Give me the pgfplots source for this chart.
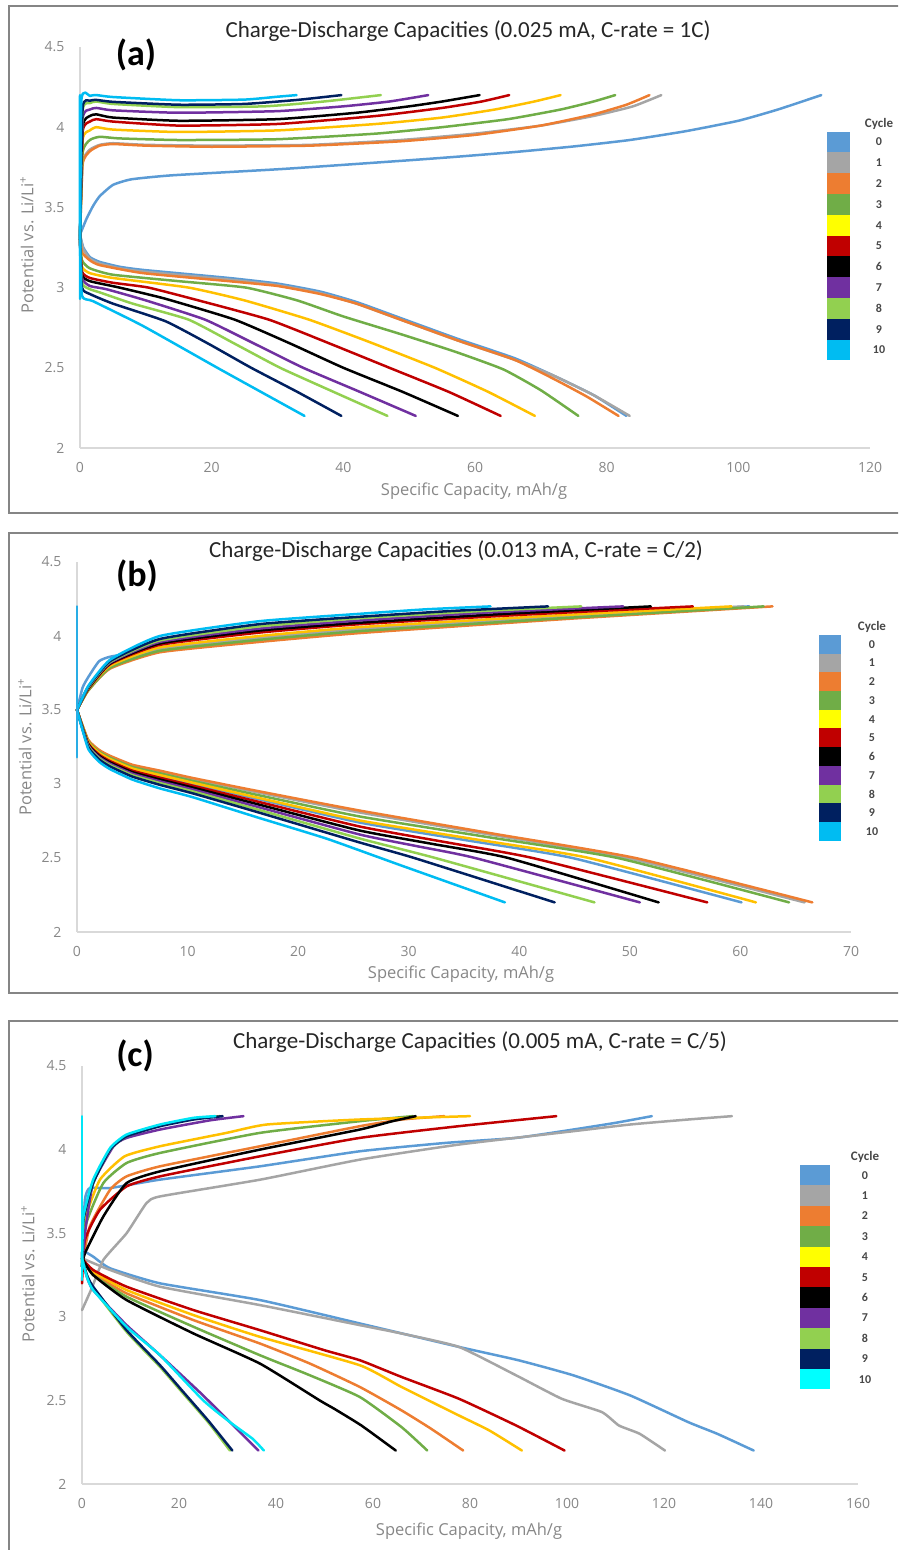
\documentclass[border=0pt]{standalone}
\usepackage{fontspec}
\setmainfont{Carlito}
\newfontfamily\osans{Open Sans}
\usepackage{pgfplots}
\pgfplotsset{compat=1.18}
\definecolor{c0}{HTML}{5B9BD5}
\definecolor{c1}{HTML}{A5A5A5}
\definecolor{c2}{HTML}{ED7D31}
\definecolor{c3}{HTML}{70AD47}
\definecolor{c4}{HTML}{FFC000}
\definecolor{c4l}{HTML}{FFFF00}
\definecolor{c5}{HTML}{C00000}
\definecolor{c6}{HTML}{000000}
\definecolor{c7}{HTML}{7030A0}
\definecolor{c8}{HTML}{92D050}
\definecolor{c9}{HTML}{002060}
\definecolor{c10}{HTML}{00BCF2}
\definecolor{c10c}{HTML}{00E6F6}
\definecolor{c10cl}{HTML}{00FFFF}
\definecolor{frame}{HTML}{858585}
\pgfplotsset{
  cd/.style={
    scale only axis, anchor=south west, clip=false,
    axis x line*=bottom, axis y line*=left,
    axis line style={-, draw=black!15, line width=1.6pt},
    major tick length=0pt,
    ymin=2, ymax=4.5, ytick={2,2.5,3,3.5,4,4.5},
    /pgf/number format/assume math mode=true,
    tick label style={font=\osans\fontsize{14}{14}\selectfont, text=black!47},
    yticklabel style={xshift=-12pt},
    xticklabel style={yshift=-11pt},
    no markers,
    every axis plot/.append style={line width=2.5pt, line join=round, line cap=round, smooth, tension=0.3},
  }
}
\begin{document}
\begin{tikzpicture}
\useasboundingbox (0,0) rectangle (898pt,1550pt);
\clip (0,0) rectangle (898pt,1550pt);
% frames
\draw[frame, line width=2pt] (8.5pt,1037pt) rectangle (920pt,1543.5pt);
\draw[frame, line width=2pt] (8.5pt,557pt) rectangle (920pt,1017pt);
\draw[frame, line width=2pt] (8.5pt,-20pt) rectangle (920pt,528.5pt);

% ---------------- panel (a)
\begin{axis}[cd, at={(80pt,1102pt)}, width=790pt, height=401pt,
  xmin=0, xmax=120, xtick={0,20,40,60,80,100,120}]
% cycle 0
\addplot[c0] coordinates {(0,3.33)(1,3.43)(2,3.51)(3,3.57)(5,3.64)(7.8,3.675)(14,3.70)(31,3.74)(48.7,3.79)(57,3.815)(66,3.845)(75,3.88)(83.5,3.92)(92,3.975)(100,4.04)(106,4.11)(112.6,4.2)};
\addplot[c0] coordinates {(0,3.33)(0.5,3.25)(1.5,3.19)(3,3.16)(6,3.13)(9.6,3.11)(22.6,3.06)(30,3.025)(36.5,2.975)(42,2.91)(48.7,2.81)(57.4,2.68)(66,2.56)(72,2.45)(78,2.33)(83,2.2)};
% cycle 1
\addplot[c1] coordinates {(0,3.3)(0.4,3.78)(1.5,3.86)(3,3.89)(5,3.9)(10,3.89)(20,3.885)(35,3.89)(48.7,3.92)(60,3.96)(70,4.01)(78,4.07)(84,4.13)(88.3,4.2)};
\addplot[c1] coordinates {(0,3.33)(0.5,3.24)(1.5,3.18)(3,3.15)(6,3.12)(9.6,3.10)(22.6,3.05)(30,3.015)(36.5,2.965)(42,2.90)(48.7,2.80)(57.4,2.67)(66,2.55)(72,2.45)(78,2.33)(83.5,2.2)};
% cycle 2
\addplot[c2] coordinates {(0,3.3)(0.4,3.77)(1.5,3.85)(3,3.885)(5,3.895)(10,3.885)(20,3.878)(35,3.885)(48.7,3.912)(60,3.952)(70,4.01)(78,4.08)(83,4.14)(86.5,4.2)};
\addplot[c2] coordinates {(0,3.33)(0.3,3.22)(1.5,3.17)(3,3.14)(9.6,3.09)(22.6,3.04)(30,3.01)(36.5,2.96)(42,2.9)(48.7,2.8)(57.4,2.67)(66,2.55)(72,2.43)(77,2.32)(81.8,2.2)};
% cycle 3
\addplot[c3] coordinates {(0,3.3)(0.4,3.84)(1.5,3.92)(3,3.94)(6,3.93)(15,3.92)(30,3.925)(45,3.96)(55,4.0)(65,4.05)(73,4.11)(78,4.16)(81.3,4.2)};
\addplot[c3] coordinates {(0,3.3)(0.3,3.17)(1.5,3.12)(5,3.08)(15,3.04)(25.2,3.0)(33,2.92)(40,2.82)(48.7,2.71)(57,2.6)(64.3,2.49)(70,2.36)(75.7,2.2)};
% cycle 4
\addplot[c4] coordinates {(0,3.3)(0.4,3.92)(1.5,3.98)(2.5,4.0)(5,3.985)(15,3.97)(30,3.98)(45,4.02)(55,4.06)(63,4.11)(69,4.16)(73,4.2)};
\addplot[c4] coordinates {(0,3.3)(0.3,3.13)(1.5,3.09)(5,3.06)(16.5,3.0)(25,2.92)(34.8,2.8)(44,2.66)(53.9,2.5)(62,2.35)(69.1,2.2)};
% cycle 5
\addplot[c5] coordinates {(0,3.3)(0.4,3.97)(1.5,4.035)(2.5,4.05)(5,4.035)(15,4.01)(30,4.02)(45,4.07)(55,4.12)(61,4.16)(65.2,4.2)};
\addplot[c5] coordinates {(0,3.3)(0.3,3.1)(1.5,3.06)(5,3.03)(10.4,3.0)(18,2.92)(28.7,2.8)(38,2.65)(47,2.5)(56,2.35)(63.9,2.2)};
% cycle 6
\addplot[c6] coordinates {(0,3.3)(0.4,4.0)(1.5,4.07)(2.5,4.08)(5,4.06)(15,4.04)(30,4.05)(42,4.09)(50,4.13)(55,4.16)(60.7,4.2)};
\addplot[c6] coordinates {(0,3.3)(0.3,3.08)(1.5,3.04)(6,3.0)(13,2.93)(23.5,2.8)(32,2.65)(40,2.5)(49,2.35)(57.4,2.2)};
% cycle 7
\addplot[c7] coordinates {(0,3.3)(0.4,4.05)(1.5,4.11)(2.5,4.12)(5,4.105)(15,4.09)(30,4.1)(40,4.13)(47,4.16)(52.9,4.2)};
\addplot[c7] coordinates {(0,3.3)(0.3,3.06)(1.5,3.01)(4,2.99)(10,2.92)(19,2.8)(26.5,2.65)(33.9,2.5)(42.5,2.35)(51,2.2)};
% cycle 8
\addplot[c8] coordinates {(0,3.3)(0.4,4.1)(1.5,4.15)(2.5,4.16)(5,4.145)(15,4.125)(28,4.13)(37,4.16)(45.7,4.2)};
\addplot[c8] coordinates {(0,3.3)(0.3,3.03)(1.5,2.99)(3,2.97)(8,2.9)(16.5,2.8)(23.5,2.65)(30.4,2.5)(38.5,2.35)(46.7,2.2)};
% cycle 9
\addplot[c9] coordinates {(0,3.3)(0.4,4.12)(1.5,4.165)(2.5,4.17)(5,4.158)(15,4.14)(25,4.145)(33,4.17)(39.7,4.2)};
\addplot[c9] coordinates {(0,3.3)(0.3,3.0)(1.5,2.96)(5,2.9)(13,2.79)(19.5,2.65)(26,2.5)(33,2.35)(39.7,2.2)};
% cycle 10
\addplot[c10] coordinates {(0,2.93)(0.2,4.16)(1.5,4.195)(2.5,4.2)(5,4.188)(15,4.168)(25,4.172)(30,4.19)(32.9,4.2)};
\addplot[c10] coordinates {(0,4.2)(0,3.3)(0.3,2.95)(2,2.915)(9.6,2.76)(21.3,2.49)(34.1,2.2)};
\end{axis}

% ---------------- panel (b)
\begin{axis}[cd, at={(77pt,618pt)}, width=774pt, height=370pt,
  xmin=0, xmax=70, xtick={0,10,20,30,40,50,60,70}]
\addplot[c0] coordinates {(0,3.5)(0.5,3.65)(1,3.72)(2,3.83)(3,3.86)(5,3.885)(7.5,3.91)(16.5,3.988)(25.6,4.046)(43,4.128)(60.8,4.2)};
\addplot[c0] coordinates {(0,3.5)(1,3.282)(2,3.206)(3,3.163)(5,3.10)(7.5,3.054)(10.5,3.001)(16.5,2.896)(25.6,2.739)(35.2,2.62)(44.8,2.5)(60.1,2.2)};
\addplot[c1] coordinates {(0,3.5)(1,3.635)(3,3.79)(7.5,3.912)(16.5,3.988)(25.6,4.046)(42.95,4.128)(60.3,4.2)};
\addplot[c1] coordinates {(0,3.5)(1,3.297)(2,3.226)(3,3.186)(5,3.125)(7.5,3.084)(10.5,3.034)(16.5,2.941)(25.6,2.807)(37.7,2.654)(49.8,2.5)(65.8,2.2)};
\addplot[c2] coordinates {(0,3.5)(1,3.63)(3,3.78)(7.5,3.89)(16.5,3.96)(25.6,4.02)(44.25,4.115)(62.9,4.2)};
\addplot[c2] coordinates {(0,3.5)(1,3.30)(2,3.23)(3,3.19)(5,3.13)(7.5,3.09)(10.5,3.04)(16.5,2.95)(25.6,2.82)(38,2.66)(50.5,2.5)(66.5,2.2)};
\addplot[c3] coordinates {(0,3.5)(1,3.63)(3,3.786)(7.5,3.9)(16.5,3.974)(25.6,4.033)(43.85,4.12)(62.1,4.2)};
\addplot[c3] coordinates {(0,3.5)(1,3.291)(2,3.218)(3,3.177)(5,3.115)(7.5,3.072)(10.5,3.02)(16.5,2.923)(25.6,2.78)(37.25,2.64)(48.9,2.5)(64.4,2.2)};
\addplot[c4] coordinates {(0,3.5)(1,3.64)(3,3.8)(7.5,3.923)(16.5,4.0)(25.6,4.06)(42.4,4.135)(59.2,4.2)};
\addplot[c4] coordinates {(0,3.5)(1,3.285)(2,3.21)(3,3.168)(5,3.105)(7.5,3.06)(10.5,3.008)(16.5,2.905)(25.6,2.753)(35.95,2.627)(46.3,2.5)(61.4,2.2)};
\addplot[c5] coordinates {(0,3.5)(1,3.64)(3,3.81)(7.5,3.94)(16.5,4.023)(25.6,4.08)(40.65,4.145)(55.7,4.2)};
\addplot[c5] coordinates {(0,3.5)(1,3.276)(2,3.198)(3,3.154)(5,3.09)(7.5,3.042)(10.5,2.988)(16.5,2.878)(25.6,2.712)(33.4,2.606)(41.2,2.5)(57,2.2)};
\addplot[c6] coordinates {(0,3.5)(1,3.645)(3,3.815)(7.5,3.95)(16.5,4.037)(25.6,4.09)(38.75,4.15)(51.9,4.2)};
\addplot[c6] coordinates {(0,3.5)(1,3.27)(2,3.19)(3,3.145)(5,3.08)(7.5,3.03)(10.5,2.975)(16.5,2.86)(25.6,2.685)(32.3,2.593)(39,2.5)(52.6,2.2)};
\addplot[c7] coordinates {(0,3.5)(1,3.65)(3,3.82)(7.5,3.96)(16.5,4.05)(25.6,4.105)(37.5,4.16)(49.4,4.2)};
\addplot[c7] coordinates {(0,3.5)(1,3.264)(2,3.182)(3,3.136)(5,3.07)(7.5,3.018)(10.5,2.962)(16.5,2.842)(25.6,2.658)(30.8,2.579)(36,2.5)(50.9,2.2)};
\addplot[c8] coordinates {(0,3.5)(1,3.65)(3,3.825)(7.5,3.97)(16.5,4.065)(25.6,4.12)(35.6,4.165)(45.6,4.2)};
\addplot[c8] coordinates {(0,3.5)(1,3.258)(2,3.174)(3,3.127)(5,3.06)(7.5,3.006)(10.5,2.949)(16.5,2.824)(25.6,2.631)(32.4,2.5)(46.8,2.2)};
\addplot[c9] coordinates {(0,3.5)(1,3.655)(3,3.83)(7.5,3.98)(16.5,4.08)(25.6,4.13)(34.1,4.17)(42.6,4.2)};
\addplot[c9] coordinates {(0,3.5)(1,3.252)(2,3.166)(3,3.118)(5,3.05)(7.5,2.994)(10.5,2.936)(16.5,2.806)(25.6,2.604)(30.5,2.5)(43.2,2.2)};
\addplot[c10] coordinates {(0,3.5)(1,3.66)(3,3.84)(7.5,4.0)(16.5,4.1)(25.6,4.15)(31.5,4.18)(37.4,4.2)};
\addplot[c10] coordinates {(0,3.5)(1,3.24)(2,3.15)(3,3.10)(5,3.03)(7.5,2.97)(10.5,2.91)(16.5,2.77)(22.6,2.63)(29.3,2.45)(38.7,2.2)};
\addplot[c0!45!c10, line width=2.4pt] coordinates {(0,3.18)(0,4.2)};
\end{axis}

% ---------------- panel (c)
\begin{axis}[cd, at={(82pt,66pt)}, width=776pt, height=418pt,
  xmin=0, xmax=160, xtick={0,20,40,60,80,100,120,140,160}]
\addplot[c0] coordinates {(0,3.35)(0.6,3.7)(1.6,3.77)(5.8,3.77)(16,3.82)(36.7,3.9)(57.3,3.99)(75,4.04)(89.5,4.07)(101.3,4.12)(110,4.16)(117.5,4.2)};
\addplot[c0] coordinates {(0,3.4)(2.3,3.36)(5.8,3.29)(16.1,3.2)(36.7,3.1)(57.3,2.96)(77.7,2.82)(90,2.74)(101.3,2.65)(113,2.53)(125,2.37)(131,2.3)(138.5,2.2)};
\addplot[c1] coordinates {(0,3.04)(2,3.17)(4.4,3.34)(9.2,3.5)(13.3,3.68)(16.1,3.72)(36.7,3.82)(57.3,3.94)(77.7,4.03)(101.3,4.11)(113,4.15)(125,4.18)(134,4.2)};
\addplot[c1] coordinates {(0,3.35)(5.8,3.28)(16.1,3.18)(36.7,3.07)(57.3,2.95)(65.9,2.9)(77.7,2.82)(89.5,2.65)(98.9,2.51)(107.2,2.43)(110.7,2.35)(115,2.3)(120.2,2.2)};
\addplot[c2] coordinates {(0,3.3)(1.6,3.54)(5.8,3.76)(9.2,3.84)(16.1,3.9)(36.7,4.02)(57.3,4.14)(66,4.18)(74.7,4.2)};
\addplot[c2] coordinates {(0,3.35)(2.3,3.26)(9.2,3.14)(23,2.98)(36.7,2.84)(47,2.72)(57.3,2.58)(65.9,2.44)(72,2.33)(78.6,2.2)};
\addplot[c3] coordinates {(0,3.3)(0.9,3.56)(4.4,3.8)(9.2,3.92)(16.1,3.98)(36.7,4.1)(57.3,4.17)(68.2,4.2)};
\addplot[c3] coordinates {(0,3.35)(2.3,3.25)(9.2,3.12)(23,2.94)(36.7,2.77)(47,2.65)(57.3,2.52)(65.9,2.34)(71.2,2.2)};
\addplot[c4] coordinates {(0,3.3)(0.6,3.58)(3.7,3.82)(8.8,3.96)(16.1,4.02)(29.8,4.1)(38.1,4.15)(57.3,4.18)(80,4.2)};
\addplot[c4] coordinates {(0,3.35)(2.3,3.27)(9.2,3.16)(23,3.01)(36.7,2.88)(57.3,2.71)(65.9,2.58)(77.7,2.41)(84,2.32)(90.7,2.2)};
\addplot[c5] coordinates {(0,3.2)(0.6,3.46)(3.7,3.64)(9.2,3.78)(16.1,3.84)(36.7,3.96)(57.3,4.07)(77.7,4.14)(97.8,4.2)};
\addplot[c5] coordinates {(0,3.35)(2.3,3.28)(9.2,3.18)(23,3.04)(36.7,2.92)(50,2.8)(57.3,2.74)(65.9,2.64)(77.7,2.51)(89.5,2.35)(99.5,2.2)};
\addplot[c6] coordinates {(0,3.3)(0.6,3.38)(4.4,3.6)(9.2,3.8)(16.1,3.87)(36.7,4.0)(57.3,4.12)(64,4.17)(68.8,4.2)};
\addplot[c6] coordinates {(0,3.35)(2.3,3.25)(9.2,3.1)(23,2.9)(36.7,2.72)(49,2.5)(52,2.45)(57.6,2.35)(64.7,2.2)};
\addplot[c7] coordinates {(0,3.3)(0.6,3.5)(2.3,3.8)(6.5,4.02)(9.2,4.07)(16.1,4.12)(26.4,4.175)(33.3,4.2)};
\addplot[c7] coordinates {(0,3.35)(1,3.24)(2.3,3.16)(9.2,2.95)(16.1,2.77)(24.6,2.54)(30.5,2.37)(36.4,2.2)};
\addplot[c8] coordinates {(0,3.3)(0.3,3.58)(2.3,3.8)(5.8,4.0)(9.2,4.08)(16.1,4.145)(23,4.185)(28.5,4.2)};
\addplot[c8] coordinates {(0,3.35)(1,3.25)(2.3,3.17)(9.2,2.91)(16.1,2.7)(20.9,2.54)(26,2.37)(30.5,2.2)};
\addplot[c9] coordinates {(0,3.3)(0.3,3.58)(2.3,3.8)(5.8,4.0)(9.2,4.08)(16.1,4.14)(23,4.18)(29,4.2)};
\addplot[c9] coordinates {(0,3.35)(1,3.25)(2.3,3.18)(9.2,2.92)(16.1,2.71)(20.9,2.55)(26,2.38)(31,2.2)};
\addplot[c10c] coordinates {(0,3.3)(0.3,3.6)(2.3,3.82)(5.8,4.01)(9.2,4.09)(16.1,4.15)(23,4.19)(27.5,4.2)};
\addplot[c10c] coordinates {(0,3.35)(1,3.24)(2.3,3.16)(9.2,2.94)(16.1,2.77)(25,2.5)(30.5,2.37)(35.2,2.27)(37.5,2.2)};
\addplot[c10c, line width=2.4pt] coordinates {(0,3.22)(0,4.2)};
\end{axis}

% ---------------- titles, labels
\tikzset{ttl/.style={font=\fontsize{23}{23}\selectfont, text=black!85},
  plab/.style={font=\bfseries\fontsize{36}{36}\selectfont, text=black},
  axl/.style={font=\osans\fontsize{16.5}{16.5}\selectfont, text=black!47},
  lgn/.style={font=\bfseries\fontsize{12}{12}\selectfont, text=black!72}}
\node[ttl] at (468pt,1519pt) {Charge-Discharge Capacities (0.025 mA, C-rate = 1C)};
\node[ttl] at (456pt,999pt) {Charge-Discharge Capacities (0.013 mA, C-rate = C/2)};
\node[ttl] at (480pt,508pt) {Charge-Discharge Capacities (0.005 mA, C-rate = C/5)};
\node[plab] at (136pt,1495pt) {(a)};
\node[plab] at (137pt,974pt) {(b)};
\node[plab] at (135pt,494pt) {(c)};
\node[axl] at (474pt,1059pt) {Specific Capacity, mAh/g};
\node[axl] at (461pt,576pt) {Specific Capacity, mAh/g};
\node[axl] at (469pt,19pt) {Specific Capacity, mAh/g};
\node[axl, rotate=90] at (27pt,1305pt) {Potential vs. Li/Li\textsuperscript{+}};
\node[axl, rotate=90] at (25pt,803pt) {Potential vs. Li/Li\textsuperscript{+}};
\node[axl, rotate=90] at (28pt,276pt) {Potential vs. Li/Li\textsuperscript{+}};

% ---------------- legends
% (a)
\node[lgn, font=\bfseries\fontsize{13}{13}\selectfont] at (879pt,1426pt) {Cycle};
\foreach \c [count=\i from 0] in {c0,c1,c2,c3,c4l,c5,c6,c7,c8,c9,c10} {
  \fill[\c] (826.7pt,{(1418.3-\i*20.8)*1pt}) rectangle (850pt,{(1418.3-(\i+1)*20.8)*1pt});
  \node[lgn] at (879pt,{(1418.3-(\i+0.5)*20.8)*1pt}) {\i};
}
% (b)
\node[lgn, font=\bfseries\fontsize{13}{13}\selectfont] at (872pt,923pt) {Cycle};
\foreach \c [count=\i from 0] in {c0,c1,c2,c3,c4l,c5,c6,c7,c8,c9,c10} {
  \fill[\c] (818.6pt,{(915-\i*18.7)*1pt}) rectangle (841.4pt,{(915-(\i+1)*18.7)*1pt});
  \node[lgn] at (872pt,{(915-(\i+0.5)*18.7)*1pt}) {\i};
}
% (c)
\node[lgn, font=\bfseries\fontsize{13}{13}\selectfont] at (865pt,393pt) {Cycle};
\foreach \c [count=\i from 0] in {c0,c1,c2,c3,c4l,c5,c6,c7,c8,c9,c10cl} {
  \fill[\c] (799.5pt,{(385-\i*20.4)*1pt}) rectangle (830pt,{(385-(\i+1)*20.4)*1pt});
  \node[lgn] at (865pt,{(385-(\i+0.5)*20.4)*1pt}) {\i};
}
\end{tikzpicture}
\end{document}
